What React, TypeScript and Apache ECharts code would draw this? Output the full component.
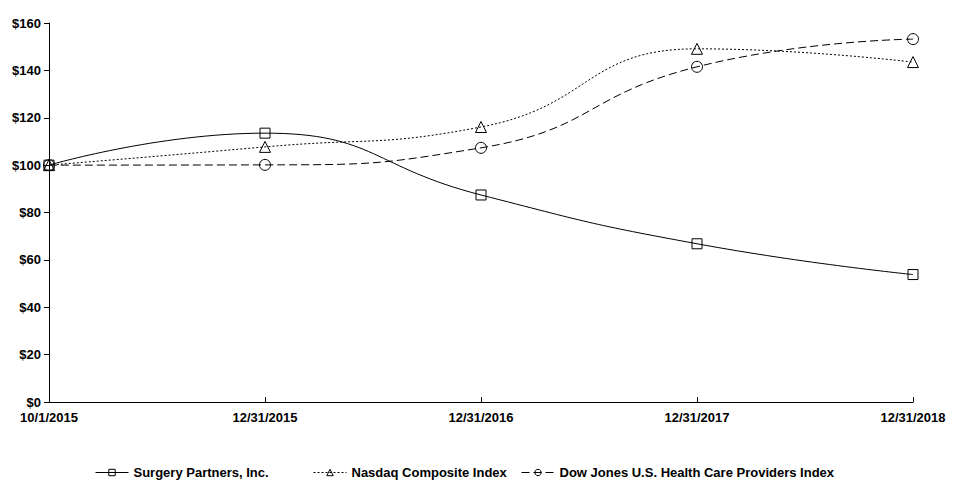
import React, { useEffect, useRef } from "react";
import * as echarts from "echarts";

const categories = ["10/1/2015", "12/31/2015", "12/31/2016", "12/31/2017", "12/31/2018"];
const surgery = [100, 113.5, 87.4, 66.8, 53.8];
const nasdaq = [100, 107.7, 116.1, 149.1, 143.5];
const dowJones = [100, 100.1, 107.3, 141.5, 153.2];
const seriesNames = ["Surgery Partners, Inc.", "Nasdaq Composite Index", "Dow Jones U.S. Health Care Providers Index"];

export default function App() {
  const ref = useRef<HTMLDivElement>(null);
  useEffect(() => {
    const chart = echarts.init(ref.current!, null, { renderer: "svg" });
    const font = "Arial, 'Liberation Sans', sans-serif";
    const mk = (name: string, data: number[], symbol: string, type: any, size: number) => ({
      name,
      type: "line",
      data,
      smooth: 0.5,
      symbol,
      symbolSize: size,
      showAllSymbol: true,
      lineStyle: { color: "#000", width: 1, type },
      itemStyle: { color: "rgba(255,255,255,0)", borderColor: "#000", borderWidth: 1 },
      emphasis: { disabled: true },
    });
    const legendBase = {
      top: 466,
      padding: 0,
      itemWidth: 33,
      itemHeight: 8,
      itemGap: 0,
      lineStyle: { width: 1 },
      itemStyle: { borderWidth: 1 },
      textStyle: { fontFamily: font, fontWeight: "bold", fontSize: 13, color: "#000" },
      selectedMode: false,
    };
    chart.setOption({
      animation: false,
      backgroundColor: "#fff",
      grid: { left: 49, right: 43, top: 23, bottom: 91 },
      legend: [
        { ...legendBase, left: 95, data: [seriesNames[0]] },
        { ...legendBase, left: 313, data: [seriesNames[1]] },
        { ...legendBase, left: 521, data: [seriesNames[2]] },
      ],
      xAxis: {
        type: "category",
        data: categories,
        boundaryGap: false,
        axisLine: { lineStyle: { color: "#000", width: 1 } },
        axisTick: { inside: true, length: 5, lineStyle: { color: "#000" } },
        axisLabel: { color: "#000", fontFamily: font, fontWeight: "bold", fontSize: 13, margin: 9 },
        splitLine: { show: false },
      },
      yAxis: {
        type: "value",
        min: 0,
        max: 160,
        interval: 20,
        axisLine: { show: true, lineStyle: { color: "#000", width: 1 } },
        axisTick: { show: true, inside: false, length: 5, lineStyle: { color: "#000" } },
        axisLabel: { color: "#000", fontFamily: font, fontWeight: "bold", fontSize: 13, margin: 8, formatter: (v: number) => "$" + v },
        splitLine: { show: false },
      },
      series: [
        mk(seriesNames[0], surgery, "rect", "solid", 10),
        mk(seriesNames[1], nasdaq, "triangle", [2, 2], 11),
        mk(seriesNames[2], dowJones, "circle", [8, 4], 11),
      ],
    });
    return () => chart.dispose();
  }, []);
  return <div ref={ref} style={{ width: 956, height: 493, position: "absolute", left: 0, top: 0 }} />;
}
